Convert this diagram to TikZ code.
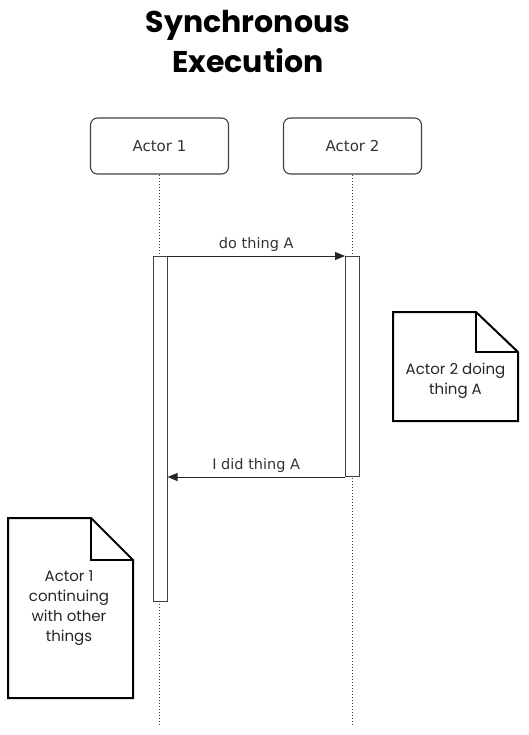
\documentclass[tikz,border=0pt]{standalone}
\usepackage{fontspec}
\setmainfont{DejaVu Sans}
\newfontfamily\notefont{Poppins}
\usetikzlibrary{positioning,arrows.meta,calc}

\tikzset{
  actorbox/.style={draw=black!75, line width=1.1pt, rounded corners=7pt, minimum width=138pt, minimum height=56pt, font=\fontsize{15}{18}\selectfont, text=black!80},
  lifeline/.style={draw=black!75, dotted, line width=1pt},
  activebar/.style={draw=black!75, fill=white, line width=1pt, minimum width=14pt, inner sep=0pt},
  message/.style={draw=black!85, line width=0.9pt, -{Triangle[length=10pt,width=8pt]}},
  msglabel/.style={font=\fontsize{14.5}{17}\selectfont, text=black!80},
  notetext/.style={font=\notefont\fontsize{15}{20}\selectfont, align=center, text=black!85},
  notebox/.style={draw=black, line width=2pt, line join=miter}
}

\begin{document}
\begin{tikzpicture}[x=1pt,y=-1pt]
  \useasboundingbox (0,0) rectangle (529,735);

  % title
  \node[font=\notefont\bfseries\fontsize{30}{40}\selectfont, align=center] (title) at (248,42) {Synchronous\\Execution};

  % actors and lifelines
  \node[actorbox] (actor1) at (159.5,146) {Actor 1};
  \node[actorbox] (actor2) at (352.5,146) {Actor 2};
  \coordinate (end1) at (actor1 |- 0,725);
  \coordinate (end2) at (actor2 |- 0,725);
  \draw[lifeline] (actor1.south) -- (end1);
  \draw[lifeline] (actor2.south) -- (end2);

  % activation bars
  \node[activebar, minimum height=345pt, anchor=north] (bar1) at (160,256) {};
  \node[activebar, minimum height=220pt, anchor=north] (bar2) at (352.5,256) {};

  % messages
  \draw[message] (bar1.north east) -- node[msglabel, above=1pt] (call) {do thing A} (bar2.north west);
  \draw[message] (bar2.south west) -- node[msglabel, above=1pt] (reply) {I did thing A} (bar2.south west -| bar1.east);

  % notes
  \draw[notebox] (393,312) -- (476,312) -- (518,352) -- (518,421) -- (393,421) -- cycle;
  \draw[notebox] (476,312) -- (476,352) -- (518,352);
  \node[notetext] (note2) at (455.5,381) {Actor 2 doing\\thing A};

  \draw[notebox] (8,518) -- (91,518) -- (133,560) -- (133,698) -- (8,698) -- cycle;
  \draw[notebox] (91,518) -- (91,560) -- (133,560);
  \node[notetext] (note1) at (69,608) {Actor 1\\continuing\\with other\\things};
\end{tikzpicture}
\end{document}
